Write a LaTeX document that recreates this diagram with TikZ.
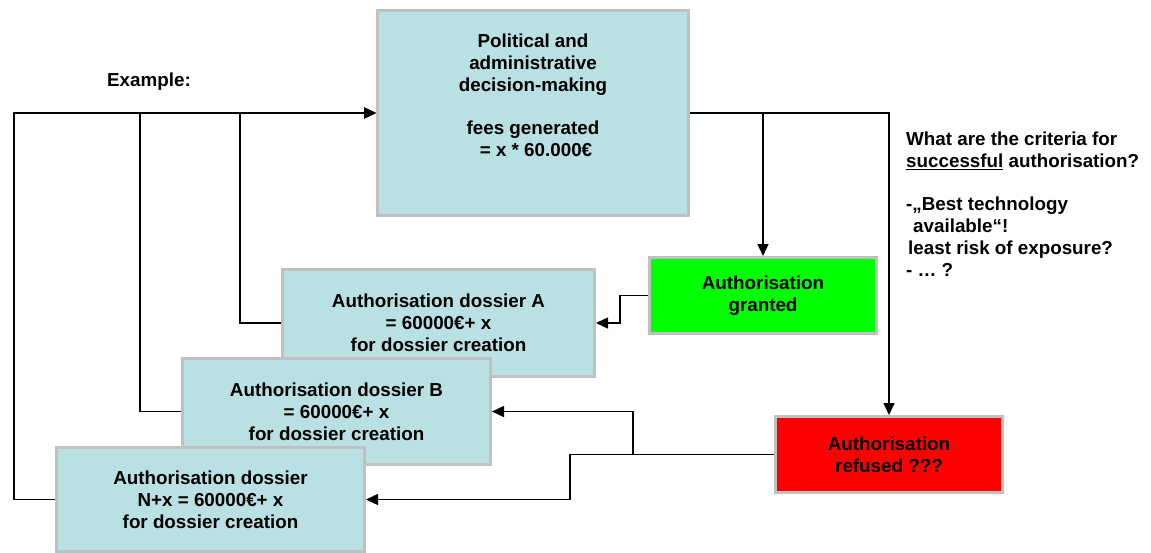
\documentclass[tikz,border=0pt]{standalone}
\usepackage{fontspec}
\setmainfont{Liberation Sans}
\usetikzlibrary{arrows.meta}
\definecolor{boxblue}{RGB}{185,224,227}
\definecolor{boxgray}{RGB}{192,192,192}
\definecolor{okgreen}{RGB}{0,255,0}
\definecolor{norred}{RGB}{255,0,0}
\begin{document}
\begin{tikzpicture}[x=1pt,y=-1pt,
  font=\fontsize{18.8}{22}\selectfont\bfseries,
  box/.style={draw=boxgray, line width=3pt, inner sep=0pt, align=center},
  conn/.style={line width=1.4pt, draw=black},
  arr/.style={conn, -{Triangle[length=12pt,width=11pt]}},
  lbl/.style={inner sep=0pt, align=center}]
\useasboundingbox (0,0) rectangle (1151,552);

% top box
\node[box, fill=boxblue, minimum width=311pt, minimum height=205pt] (top) at (533,113) {};
\node[lbl] (toptext) at (533,95) {Political and\\administrative\\decision-making\\[21pt]fees generated\\\hspace*{6pt}= x * 60.000€};

\node[lbl] (example) at (149,82) {Example:};

% dossiers (drawn in stacking order)
\node[box, fill=boxblue, minimum width=312pt, minimum height=107pt] (dA) at (438.5,323)
  {Authorisation dossier A\\= 60000€+ x\\for dossier creation};
\node[box, fill=boxblue, minimum width=308pt, minimum height=106pt] (dB) at (336.5,411.5)
  {Authorisation dossier B\\= 60000€+ x\\for dossier creation};
\node[box, fill=boxblue, minimum width=308pt, minimum height=104pt] (dN) at (210.5,499.5)
  {Authorisation dossier\\N+x = 60000€+ x\\for dossier creation};

% decision boxes
\node[box, fill=okgreen, minimum width=227pt, minimum height=76pt] (grant) at (763,295.5)
  {Authorisation\\granted};
\node[box, fill=norred, minimum width=227pt, minimum height=76pt] (refuse) at (889,454.5)
  {Authorisation\\refused ???};

% criteria text
\node[inner sep=0pt, align=left, anchor=north west] (criteria) at (906,132)
  {What are the criteria for\\\underline{successful} authorisation?\\[21pt]-„Best technology\\\hspace*{7pt}available“!\\\hspace*{2pt}least risk of exposure?\\- … ?};

% feedback loops into the top box
\coordinate (jA) at (240,113);
\coordinate (jB) at (140,113);
\coordinate (jN) at (14,113);
\draw[arr] (dA.west) -| (jA) -- (top.west);
\draw[arr] (dB.west) -| (jB) -- (top.west);
\draw[arr] (dN.west) -| (jN) -- (top.west);

% outcome arrows
\coordinate (tG) at (763,113);
\coordinate (tR) at (889,113);
\draw[arr] (top.east) -- (tG) -- (grant.north);
\draw[arr] (top.east) -- (tR) -- (refuse.north);

% granted -> dossier A
\coordinate (gA) at (620,295.5);
\draw[arr] (grant.west) -- (gA) |- (dA.east);

% refused -> dossiers B and N
\coordinate (rB) at (633,454.5);
\coordinate (rN) at (570,454.5);
\draw[arr] (refuse.west) -- (rB) |- (dB.east);
\draw[arr] (refuse.west) -- (rN) |- (dN.east);
\end{tikzpicture}
\end{document}
